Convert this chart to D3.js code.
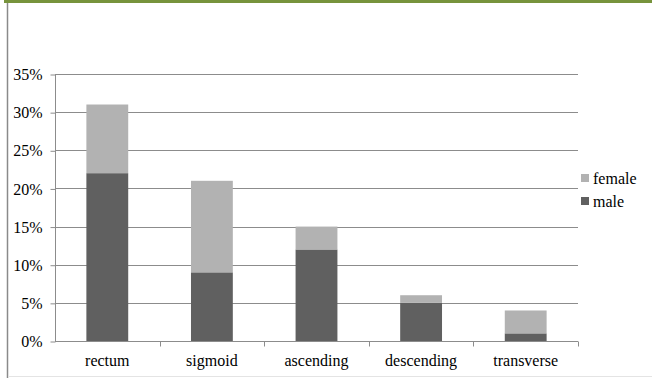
<!DOCTYPE html>
<html>
<head>
<meta charset="utf-8">
<script src="https://cdn.jsdelivr.net/npm/d3@7"></script>
<style>
  body { margin: 0; background: #fff; }
  svg { display: block; }
</style>
</head>
<body>
<div id="chart"></div>
<script>
// data (percent)
const categories = ["rectum", "sigmoid", "ascending", "descending", "transverse"];
const male = [22, 9, 12, 5, 1];
const female = [9, 12, 3, 1, 3];
const seriesKeys = ["male", "female"];
const yTicks = [0, 5, 10, 15, 20, 25, 30, 35];

const W = 652, H = 378;
const plot = { left: 55, right: 578, top: 74, bottom: 341 };
const serif = "'Liberation Serif', 'Times New Roman', serif";

const svg = d3.select("#chart").append("svg")
  .attr("width", W)
  .attr("height", H);

// frame bits of the original screenshot
svg.append("rect").attr("x", 4).attr("y", 0).attr("width", W - 4).attr("height", 3).attr("fill", "#77933c");
svg.append("line").attr("x1", 7.5).attr("x2", 7.5).attr("y1", 3).attr("y2", H).attr("stroke", "#8a8a8a").attr("stroke-width", 1.5);
svg.append("line").attr("x1", 8).attr("x2", W).attr("y1", 376.5).attr("y2", 376.5).attr("stroke", "#e4e4e4");

const table = categories.map((c, i) => ({ cat: c, male: male[i], female: female[i] }));
const series = d3.stack().keys(seriesKeys)(table);

const x = d3.scaleBand()
  .domain(categories)
  .range([plot.left, plot.right])
  .paddingInner(0.6)
  .paddingOuter(0.3);

const y = d3.scaleLinear()
  .domain([0, 35])
  .range([plot.bottom, plot.top]);

const color = d3.scaleOrdinal().domain(seriesKeys).range(["#606060", "#b2b2b2"]);

// gridlines
svg.append("g")
  .selectAll("line")
  .data(yTicks.slice(1))
  .enter().append("line")
    .attr("x1", plot.left)
    .attr("x2", plot.right)
    .attr("y1", d => Math.round(y(d)) + 0.5)
    .attr("y2", d => Math.round(y(d)) + 0.5)
    .attr("stroke", "#8c8c8c");

// bars
svg.append("g")
  .selectAll("g")
  .data(series)
  .enter().append("g")
    .attr("fill", d => color(d.key))
  .selectAll("rect")
  .data(d => d)
  .enter().append("rect")
    .attr("x", d => x(d.data.cat))
    .attr("width", x.bandwidth())
    .attr("y", d => y(d[1]))
    .attr("height", d => y(d[0]) - y(d[1]));

// y axis
const yAxis = svg.append("g")
  .attr("transform", "translate(" + (plot.left + 0.5) + ",0.5)")
  .call(d3.axisLeft(y).tickValues(yTicks).tickSize(5).tickPadding(8).tickFormat(d => d + "%"));
yAxis.select(".domain").attr("stroke", "#8c8c8c").attr("d", "M0," + plot.top + "V" + plot.bottom);
yAxis.selectAll(".tick line").attr("stroke", "#8c8c8c");
yAxis.selectAll("text")
  .attr("fill", "#000")
  .style("font-family", serif)
  .style("font-size", "16px");

// x axis with ticks between categories
const xAxis = svg.append("g")
  .attr("transform", "translate(0," + (plot.bottom + 0.5) + ")");
xAxis.append("line")
  .attr("x1", plot.left).attr("x2", plot.right)
  .attr("stroke", "#8c8c8c");
const step = x.step();
xAxis.selectAll("line.sep")
  .data(categories)
  .enter().append("line")
    .attr("class", "sep")
    .attr("x1", d => Math.round(x(d) + x.bandwidth() / 2 + step / 2) + 0.5)
    .attr("x2", d => Math.round(x(d) + x.bandwidth() / 2 + step / 2) + 0.5)
    .attr("y1", 0).attr("y2", 5)
    .attr("stroke", "#8c8c8c");
xAxis.selectAll("text")
  .data(categories)
  .enter().append("text")
    .attr("x", d => x(d) + x.bandwidth() / 2)
    .attr("y", 24)
    .attr("text-anchor", "middle")
    .style("font-family", serif)
    .style("font-size", "16px")
    .text(d => d);

// legend (female on top)
const legend = svg.append("g").attr("transform", "translate(581,174)");
["female", "male"].forEach((k, i) => {
  legend.append("rect")
    .attr("x", 0).attr("y", i * 23)
    .attr("width", 8).attr("height", 8)
    .attr("fill", color(k));
  legend.append("text")
    .attr("x", 12).attr("y", i * 23 + 10)
    .style("font-family", serif)
    .style("font-size", "16px")
    .text(k);
});
</script>
</body>
</html>
